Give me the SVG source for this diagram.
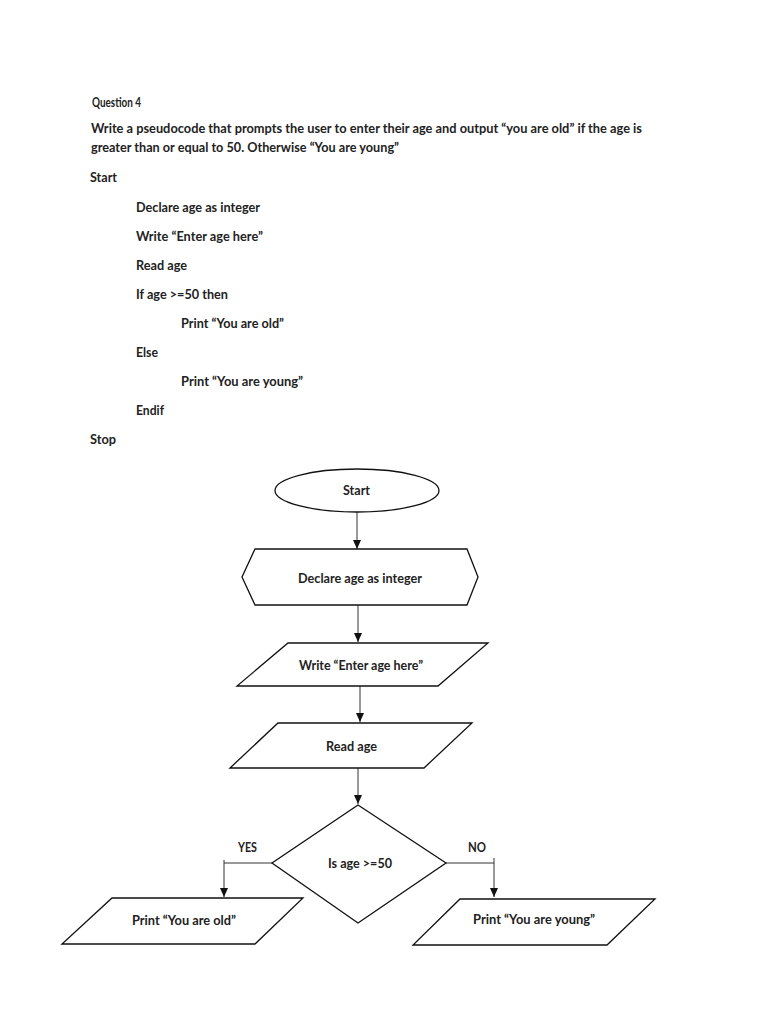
<svg xmlns="http://www.w3.org/2000/svg" width="768" height="1024" viewBox="0 0 768 1024">
<style>
text{font-family:Lato,"Open Sans","Liberation Sans",sans-serif;font-size:14px;fill:#222;font-weight:bold}
.shape{fill:#fff;stroke:#111;stroke-width:1.3}
.conn{fill:none;stroke:#333;stroke-width:1}
</style>
<defs>
<marker id="arr" markerWidth="9" markerHeight="8" refX="9" refY="4" orient="auto" markerUnits="userSpaceOnUse" viewBox="0 0 9 8">
<path d="M0,0 L9,4 L0,8 Z" fill="#111"/>
</marker>
</defs>
<rect width="768" height="1024" fill="#fff"/>
<g id="question">
<text x="92" y="107" textLength="49" lengthAdjust="spacingAndGlyphs">Question 4</text>
<text x="91" y="133" textLength="551" lengthAdjust="spacingAndGlyphs">Write a pseudocode that prompts the user to enter their age and output “you are old” if the age is</text>
<text x="91" y="152" textLength="308" lengthAdjust="spacingAndGlyphs">greater than or equal to 50. Otherwise “You are young”</text>
</g>
<g id="pseudocode">
<text x="90" y="182" textLength="27" lengthAdjust="spacingAndGlyphs">Start</text>
<text x="136" y="212" textLength="124" lengthAdjust="spacingAndGlyphs">Declare age as integer</text>
<text x="136" y="241" textLength="127" lengthAdjust="spacingAndGlyphs">Write “Enter age here”</text>
<text x="136" y="270" textLength="51" lengthAdjust="spacingAndGlyphs">Read age</text>
<text x="136" y="299" textLength="92" lengthAdjust="spacingAndGlyphs">If age &gt;=50 then</text>
<text x="181" y="328" textLength="103" lengthAdjust="spacingAndGlyphs">Print “You are old”</text>
<text x="136" y="357" textLength="22" lengthAdjust="spacingAndGlyphs">Else</text>
<text x="181" y="386" textLength="122" lengthAdjust="spacingAndGlyphs">Print “You are young”</text>
<text x="136" y="415" textLength="28" lengthAdjust="spacingAndGlyphs">Endif</text>
<text x="90" y="444" textLength="26" lengthAdjust="spacingAndGlyphs">Stop</text>
</g>
<g id="connectors">
<line class="conn" x1="357" y1="512" x2="357" y2="549" marker-end="url(#arr)"/>
<line class="conn" x1="358" y1="605" x2="358" y2="642" marker-end="url(#arr)"/>
<line class="conn" x1="360" y1="686" x2="360" y2="722" marker-end="url(#arr)"/>
<line class="conn" x1="358" y1="768" x2="358" y2="804" marker-end="url(#arr)"/>
<polyline class="conn" points="272,863 224,863 224,897" marker-end="url(#arr)"/>
<line class="conn" x1="224" y1="860" x2="224" y2="863"/>
<polyline class="conn" points="446,863 494,863 494,897" marker-end="url(#arr)"/>
<line class="conn" x1="494" y1="858" x2="494" y2="863"/>
<text x="238" y="852" textLength="19" lengthAdjust="spacingAndGlyphs">YES</text>
<text x="468" y="852" textLength="18" lengthAdjust="spacingAndGlyphs">NO</text>
</g>
<g id="start">
<ellipse class="shape" cx="357" cy="490.5" rx="82" ry="21.5"/>
<text x="343" y="495" textLength="27" lengthAdjust="spacingAndGlyphs">Start</text>
</g>
<g id="declare">
<polygon class="shape" points="255,549 467,549 478,577 467,605 255,605 242,577"/>
<text x="298" y="583" textLength="124" lengthAdjust="spacingAndGlyphs">Declare age as integer</text>
</g>
<g id="write">
<polygon class="shape" points="288,643 488,643 438,686 237,686"/>
<text x="299" y="670" textLength="124" lengthAdjust="spacingAndGlyphs">Write “Enter age here”</text>
</g>
<g id="read">
<polygon class="shape" points="278,723 472,723 424,768 230,768"/>
<text x="326" y="751" textLength="51" lengthAdjust="spacingAndGlyphs">Read age</text>
</g>
<g id="decision">
<polygon class="shape" points="358,805 446,863 358,923 272,863"/>
<text x="328" y="868" textLength="64" lengthAdjust="spacingAndGlyphs">Is age &gt;=50</text>
</g>
<g id="old">
<polygon class="shape" points="112,898 303,898 255,944 62,944"/>
<text x="132" y="925" textLength="104" lengthAdjust="spacingAndGlyphs">Print “You are old”</text>
</g>
<g id="young">
<polygon class="shape" points="460,899 655,899 607,945 413,945"/>
<text x="473" y="924" textLength="122" lengthAdjust="spacingAndGlyphs">Print “You are young”</text>
</g>
</svg>
